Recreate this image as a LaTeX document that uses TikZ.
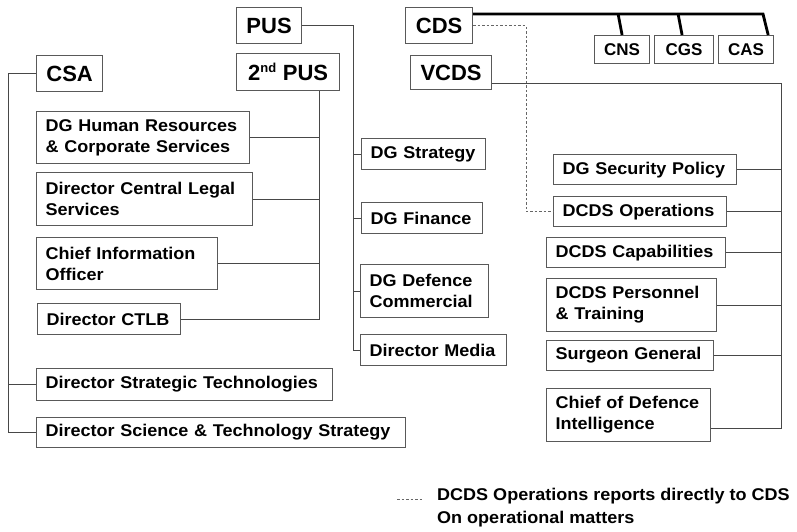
\documentclass[tikz,border=0pt]{standalone}
\usepackage{fontspec}
\setmainfont[FakeStretch=1.06]{Liberation Sans}
\newfontfamily\hdrfont{Liberation Sans}
\usetikzlibrary{calc}
\tikzset{
  bx/.style={draw=black!65, line width=1.2pt, fill=white, anchor=north west, inner xsep=9pt, inner ysep=0pt, align=left, font=\fontsize{17}{21}\selectfont\bfseries},
  hd/.style={draw=black!65, line width=1.2pt, fill=white, anchor=north west, inner sep=0pt, align=center, font=\hdrfont\fontsize{22}{24}\selectfont\bfseries},
  sm/.style={draw=black!65, line width=1.2pt, fill=white, anchor=north west, inner sep=0pt, align=center, font=\hdrfont\fontsize{17}{20}\selectfont\bfseries},
  ln/.style={draw=black!72, line width=1pt},
  bar/.style={draw=black, line width=2.8pt},
  dsh/.style={draw=black!60, line width=0.9pt, dash pattern=on 2.5pt off 2pt},
}
\begin{document}
\begin{tikzpicture}[x=1pt,y=-1pt]
\useasboundingbox (0,0) rectangle (797,531);

% top-level boxes
\node[hd, minimum width=65pt, minimum height=36pt] (pus) at (236,7) {PUS};
\node[hd, minimum width=103pt, minimum height=37pt] (pus2) at (236,53) {2\textsuperscript{\fontsize{13}{13}\selectfont nd} PUS};
\node[hd, minimum width=66pt, minimum height=36pt] (csa) at (36,55) {CSA};
\node[hd, minimum width=67pt, minimum height=36pt] (cds) at (405,7) {CDS};
\node[hd, minimum width=81pt, minimum height=34pt] (vcds) at (410,55) {VCDS};
\node[sm, minimum width=55pt, minimum height=28pt] (cns) at (594,35) {CNS};
\node[sm, minimum width=59pt, minimum height=28pt] (cgs) at (654,35) {CGS};
\node[sm, minimum width=55pt, minimum height=28pt] (cas) at (718,35) {CAS};

% 2nd PUS column
\node[bx, text width=195pt, minimum height=52pt] (dghr) at (36,111) {\mbox{DG Human Resources}\\\mbox{\& Corporate Services}};
\node[bx, text width=198pt, minimum height=53pt] (dcl) at (36,172) {\mbox{Director Central Legal}\\\mbox{Services}};
\node[bx, text width=163pt, minimum height=52pt] (cio) at (36,237) {\mbox{Chief Information}\\\mbox{Officer}};
\node[bx, text width=125pt, minimum height=31pt] (ctlb) at (37,303) {\mbox{Director CTLB}};

% CSA column
\node[bx, text width=278pt, minimum height=32pt] (dst) at (36,368) {\mbox{Director Strategic Technologies}};
\node[bx, text width=351pt, minimum height=30pt] (dsts) at (36,417) {\mbox{Director Science \& Technology Strategy}};

% PUS column
\node[bx, text width=106pt, minimum height=31pt] (dgs) at (361,138) {\mbox{DG Strategy}};
\node[bx, text width=103pt, minimum height=31pt] (dgf) at (361,202) {\mbox{DG Finance}};
\node[bx, text width=110pt, minimum height=53pt] (dgdc) at (360,264) {\mbox{DG Defence}\\\mbox{Commercial}};
\node[bx, text width=128pt, minimum height=31pt] (dm) at (360,334) {\mbox{Director Media}};

% VCDS column
\node[bx, text width=165pt, minimum height=30pt] (dgsp) at (553,154) {\mbox{DG Security Policy}};
\node[bx, text width=155pt, minimum height=30pt] (dco) at (553,196) {\mbox{DCDS Operations}};
\node[bx, text width=161pt, minimum height=30pt] (dcc) at (546,237) {\mbox{DCDS Capabilities}};
\node[bx, text width=152pt, minimum height=53pt] (dcpt) at (546,278) {\mbox{DCDS Personnel}\\\mbox{\& Training}};
\node[bx, text width=149pt, minimum height=30pt] (sg) at (546,340) {\mbox{Surgeon General}};
\node[bx, text width=146pt, minimum height=53pt] (cdi) at (546,388) {\mbox{Chief of Defence}\\\mbox{Intelligence}};

% PUS connectors
\coordinate (pbus) at (353,0);
\draw[ln] (pus.east) -- (pus.east -| pbus) -- (pbus |- dm.west) -- (dm.west);
\foreach \n in {dgs,dgf,dgdc} \draw[ln] (pbus |- \n.west) -- (\n.west);

% 2nd PUS connectors
\coordinate (sbus) at (319,0);
\draw[ln] (pus2.south -| sbus) -- (sbus |- ctlb.east) -- (ctlb.east);
\foreach \n in {dghr,dcl,cio} \draw[ln] (sbus |- \n.east) -- (\n.east);

% CSA connectors
\coordinate (cbus) at (8,0);
\draw[ln] (csa.west) -- (csa.west -| cbus) -- (cbus |- dsts.west) -- (dsts.west);
\draw[ln] (cbus |- dst.west) -- (dst.west);

% VCDS connectors
\coordinate (vbus) at (781,0);
\coordinate (vout) at ([yshift=7pt]vcds.south east);
\coordinate (cdiin) at ([yshift=14pt]cdi.south east);
\draw[ln] (vout) -- (vout -| vbus) -- (vbus |- cdiin) -- (cdiin);
\foreach \n in {dgsp,dco,dcc,dcpt,sg} \draw[ln] (vbus |- \n.east) -- (\n.east);

% CDS to service chiefs
\coordinate (cdsout) at ([yshift=-7pt]cds.north east);
\coordinate (barend) at (763,0);
\draw[bar] (cdsout) -- (cdsout -| barend) -- ([xshift=-6pt]cas.north east);
\draw[bar] ([xshift=-4pt]cns.north |- cdsout) -- (cns.north);
\draw[bar] ([xshift=-6pt]cgs.north |- cdsout) -- ([xshift=-2pt]cgs.north);

% dashed CDS to DCDS Operations
\coordinate (dx) at (526,0);
\draw[dsh] (cds.east) -- (cds.east -| dx) -- (dx |- dco.west) -- (dco.west);

% legend
\coordinate (la) at (397,499);
\coordinate (lb) at (422,499);
\draw[dsh] (la) -- (lb);
\node[anchor=west, align=left, inner sep=0pt, font=\fontsize{17}{23}\selectfont\bfseries] (legend) at (437,508) {DCDS Operations reports directly to CDS\\On operational matters};
\end{tikzpicture}
\end{document}
